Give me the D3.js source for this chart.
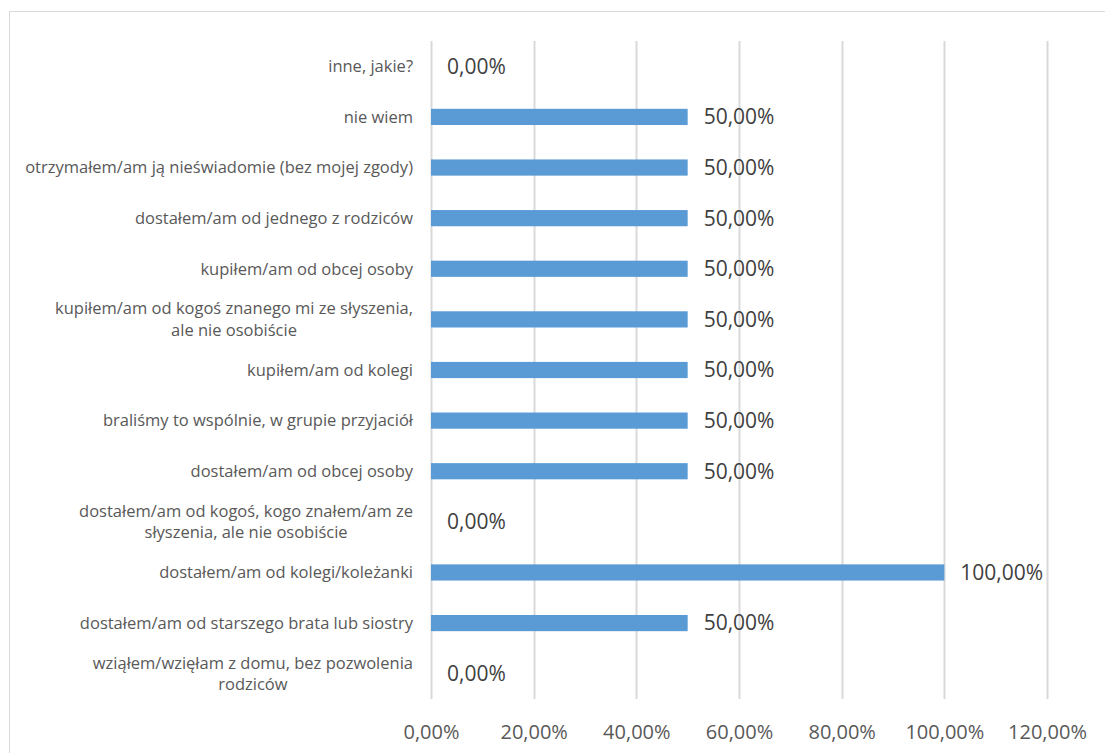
<!DOCTYPE html>
<html><head><meta charset="utf-8">
<script src="https://cdn.jsdelivr.net/npm/d3@7"></script>
<style>body{margin:0;background:#fff}svg{display:block}</style>
</head><body><svg id="c" width="1105" height="753"></svg>
<script>
const categories = [
  ["inne, jakie?"],
  ["nie wiem"],
  ["otrzymałem/am ją nieświadomie (bez mojej zgody)"],
  ["dostałem/am od jednego z rodziców"],
  ["kupiłem/am od obcej osoby"],
  ["kupiłem/am od kogoś znanego mi ze słyszenia,", "ale nie osobiście"],
  ["kupiłem/am od kolegi"],
  ["braliśmy to wspólnie, w grupie przyjaciół"],
  ["dostałem/am od obcej osoby"],
  ["dostałem/am od kogoś, kogo znałem/am ze", "słyszenia, ale nie osobiście"],
  ["dostałem/am od kolegi/koleżanki"],
  ["dostałem/am od starszego brata lub siostry"],
  ["wziąłem/wzięłam z domu, bez pozwolenia", "rodziców"]
];
const values = [0, 0.5, 0.5, 0.5, 0.5, 0.5, 0.5, 0.5, 0.5, 0, 1, 0.5, 0];
const ticks = [0, 0.2, 0.4, 0.6, 0.8, 1.0, 1.2];
const fmt = v => (v*100).toFixed(2).replace(".", ",") + "%";

const svg = d3.select("#c");
const font = "'Open Sans', sans-serif";
svg.append("rect").attr("x", 9.5).attr("y", 11.5).attr("width", 1120).attr("height", 760)
  .attr("fill", "none").attr("stroke", "#d9d9d9").attr("stroke-width", 1);

const x = d3.scaleLinear().domain([0, 1.2]).range([431, 1047]);
const y = d3.scaleBand().domain(d3.range(categories.length)).range([41, 699]).paddingInner(0.68).paddingOuter(0.34);

svg.append("g").selectAll("line").data(ticks).join("line")
  .attr("x1", d => Math.round(x(d)) + 0.5).attr("x2", d => Math.round(x(d)) + 0.5)
  .attr("y1", 41).attr("y2", 699).attr("stroke", "#d9d9d9").attr("stroke-width", 2);

const ax = svg.append("g").attr("transform", "translate(0,699)")
  .call(d3.axisBottom(x).tickValues(ticks).tickFormat(fmt).tickSize(0).tickPadding(26));
ax.select(".domain").remove();
ax.selectAll("text").attr("font-family", font).attr("font-size", 20).attr("fill", "#595959");

svg.append("g").selectAll("rect").data(values).join("rect")
  .attr("x", x(0)).attr("y", (d, i) => y(i)).attr("width", d => x(d) - x(0))
  .attr("height", y.bandwidth()).attr("fill", "#5b9bd5");

svg.append("g").selectAll("text").data(values).join("text")
  .attr("x", d => x(d) + 16).attr("y", (d, i) => y(i) + y.bandwidth()/2)
  .attr("dy", "0.35em").attr("font-family", font).attr("font-size", 21).attr("fill", "#404040")
  .text(fmt);

const lab = svg.append("g").selectAll("text").data(categories).join("text")
  .attr("text-anchor", "middle").attr("font-family", font).attr("font-size", 16.5).attr("fill", "#595959")
  .attr("transform", (d, i) => `translate(0,${y(i) + y.bandwidth()/2})`);
lab.each(function(lines) {
  const t = d3.select(this);
  const n = lines.length;
  lines.forEach((l, k) => {
    t.append("tspan").attr("y", (k - (n-1)/2) * 21.5).attr("dy", "0.35em").text(l);
  });
  const w = d3.max(t.selectAll("tspan").nodes(), nd => nd.getComputedTextLength());
  t.selectAll("tspan").attr("x", 413 - w/2);
});
</script></body></html>
